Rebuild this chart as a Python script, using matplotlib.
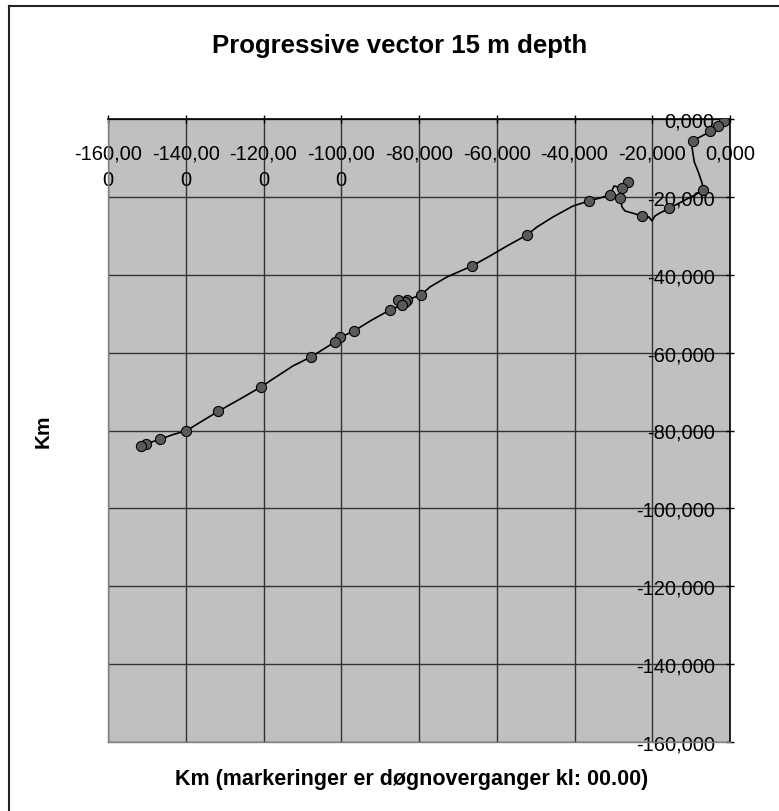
import matplotlib
matplotlib.use("Agg")
import matplotlib.pyplot as plt
from matplotlib.lines import Line2D

# ---- data (km) ----
path_x = [0.0, -1.54, -3.01, -5.02, -9.59, -9.85, -9.59, -9.18, -8.15, -7.28, -6.82,
          -9.00, -11.58, -15.69, -18.01, -19.29, -20.06, -20.84, -21.86, -22.64,
          -25.21, -27.01, -27.78, -28.04, -28.30, -27.30, -26.24, -27.78, -29.84, -30.87,
          -33.44, -36.27, -40.38, -45.53, -49.64, -52.22, -57.36, -61.74, -66.37,
          -72.80, -77.17, -79.48, -83.08, -85.40, -83.60, -84.37, -87.46, -92.09,
          -96.72, -100.32, -101.61, -107.78, -112.41, -117.55, -120.64, -126.0,
          -131.70, -139.93, -143.54, -146.62, -150.35, -151.51, -152.02]
path_y = [0.0, -0.59, -1.72, -3.21, -5.60, -6.42, -8.47, -11.04, -13.61, -16.17, -18.23,
          -19.51, -20.80, -22.98, -24.13, -24.90, -26.19, -25.16, -25.42, -24.90,
          -24.13, -23.62, -22.59, -21.31, -20.28, -18.50, -16.17, -17.72, -17.20, -19.51,
          -20.28, -21.05, -22.34, -25.16, -27.73, -29.78, -32.61, -35.17, -37.74,
          -40.56, -43.13, -45.19, -46.47, -46.47, -47.11, -47.75, -49.04, -51.60,
          -54.43, -56.10, -57.25, -61.10, -63.41, -66.75, -68.81, -71.90,
          -75.10, -80.10, -81.13, -82.29, -83.44, -83.95, -84.21]

marker_x = [-1.54, -3.01, -5.02, -9.59, -6.82, -15.69, -22.64, -28.30, -26.24, -27.78,
            -30.87, -36.27, -52.22, -66.37, -79.48, -83.08, -83.60, -85.40, -84.37,
            -87.46, -96.72, -100.32, -101.61, -107.78, -120.64, -131.70, -139.93,
            -146.62, -150.35, -151.51]
marker_y = [-0.59, -1.72, -3.21, -5.60, -18.23, -22.98, -24.90, -20.28, -16.17, -17.72,
            -19.51, -21.05, -29.78, -37.74, -45.19, -46.47, -47.11, -46.47, -47.75,
            -49.04, -54.43, -56.10, -57.25, -61.10, -68.81, -75.10, -80.10,
            -82.29, -83.44, -83.95]

x_ticks = [-160, -140, -120, -100, -80, -60, -40, -20, 0]
x_tick_labels = ["-160,00\n0", "-140,00\n0", "-120,00\n0", "-100,00\n0",
                 "-80,000", "-60,000", "-40,000", "-20,000", "0,000"]
y_ticks = [-160, -140, -120, -100, -80, -60, -40, -20, 0]
y_tick_labels = ["-160,000", "-140,000", "-120,000", "-100,000", "-80,000",
                 "-60,000", "-40,000", "-20,000", "0,000"]

title = "Progressive vector 15 m depth"
xlabel = "Km (markeringer er døgnoverganger kl: 00.00)"
ylabel = "Km"

# ---- figure ----
W, H = 779, 812
fig = plt.figure(figsize=(W / 100, H / 100), dpi=100)
plt.rcParams['font.family'] = ['Liberation Sans', 'DejaVu Sans']

ax = fig.add_axes([108 / W, (H - 743) / H, 622 / W, 623 / H])
ax.set_facecolor('#c0c0c0')
ax.set_xlim(-160, 0)
ax.set_ylim(-160, 0)

ax.grid(True, color='#333333', linewidth=1.0)
ax.set_axisbelow(True)

ax.plot(path_x, path_y, color='black', linewidth=1.2, zorder=3)
ax.plot(marker_x, marker_y, linestyle='none', marker='o', markersize=7.3,
        markerfacecolor='#5a5a5a', markeredgecolor='black', markeredgewidth=0.8, zorder=4)

for s in ['left', 'bottom']:
    ax.spines[s].set_color('#808080')
    ax.spines[s].set_linewidth(1.0)
for s in ['top', 'right']:
    ax.spines[s].set_color('black')
    ax.spines[s].set_linewidth(1.2)

ax.set_xticks(x_ticks)
ax.set_xticklabels(x_tick_labels)
ax.set_yticks(y_ticks)
ax.set_yticklabels(y_tick_labels)

ax.tick_params(axis='x', top=True, bottom=False, labeltop=True, labelbottom=False,
               direction='inout', length=6, width=1.0, labelsize=14.5, pad=-21)
ax.tick_params(axis='y', right=True, left=False, labelright=True, labelleft=False,
               direction='inout', length=6, width=1.0, labelsize=14.5, pad=-14)
for lab in ax.get_xticklabels():
    lab.set_verticalalignment('top')
    lab.set_multialignment('center')
    lab.set_linespacing(1.5)
for lab in ax.get_yticklabels():
    lab.set_horizontalalignment('right')

fig.text(400 / W, 1 - 46 / H, title, ha='center', va='center',
         fontsize=18.5, fontweight='bold')
fig.text(412 / W, 1 - 780 / H, xlabel, ha='center', va='center',
         fontsize=15.5, fontweight='bold')
fig.text(43 / W, 1 - 431 / H, ylabel, ha='center', va='center', rotation=90,
         fontsize=15, fontweight='bold')

# chart-area frame (left & top edges visible)
fig.add_artist(Line2D([8.5 / W, 8.5 / W], [0, 1 - 7 / H], color='#222222', linewidth=1.5,
                      transform=fig.transFigure))
fig.add_artist(Line2D([8.5 / W, 1], [1 - 7 / H, 1 - 7 / H], color='#222222', linewidth=1.5,
                      transform=fig.transFigure))

fig.savefig('out.png', dpi=100)
